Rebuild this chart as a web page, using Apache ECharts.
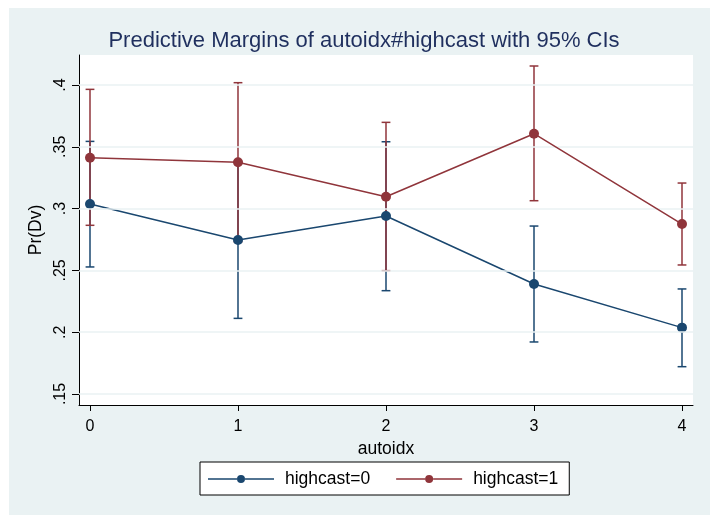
<!DOCTYPE html>
<html>
<head>
<meta charset="utf-8">
<script src="https://cdn.jsdelivr.net/npm/echarts@6/dist/echarts.min.js"></script>
<style>
html,body{margin:0;padding:0;background:#fff;}
#chart{width:710px;height:515px;}
</style>
</head>
<body>
<div id="chart"></div>
<script>
// ---- data ----
const autoidx = [0, 1, 2, 3, 4];
const hc0Mean = [0.3037, 0.2746, 0.2940, 0.2390, 0.2037];
const hc0Lo   = [0.2528, 0.2112, 0.2336, 0.1921, 0.1721];
const hc0Hi   = [0.3544, 0.3380, 0.3541, 0.2859, 0.2350];
const hc1Mean = [0.3412, 0.3375, 0.3096, 0.3606, 0.2875];
const hc1Lo   = [0.2865, 0.2731, 0.2498, 0.3064, 0.2544];
const hc1Hi   = [0.3965, 0.4019, 0.3698, 0.4154, 0.3207];
const yTickValues = [0.15, 0.2, 0.25, 0.3, 0.35, 0.4];
const yTickLabels = ['.15', '.2', '.25', '.3', '.35', '.4'];
const xTickValues = [0, 1, 2, 3, 4];
const xTickLabels = ['0', '1', '2', '3', '4'];
const seriesNames = ['highcast=0', 'highcast=1'];

const BLUE = '#1a476f';
const RED = '#90353b';
const FONT = '"Liberation Sans", Arial, sans-serif';

function ciRenderer(color) {
  return function (params, api) {
    const x = api.value(0), lo = api.value(1), hi = api.value(2);
    const pLo = api.coord([x, lo]);
    const pHi = api.coord([x, hi]);
    const w = 4.4;
    const style = { stroke: color, lineWidth: 1.5 };
    return {
      type: 'group',
      children: [
        { type: 'line', shape: { x1: pHi[0], y1: pHi[1], x2: pLo[0], y2: pLo[1] }, style: style },
        { type: 'line', shape: { x1: pHi[0] - w, y1: pHi[1], x2: pHi[0] + w, y2: pHi[1] }, style: style },
        { type: 'line', shape: { x1: pLo[0] - w, y1: pLo[1], x2: pLo[0] + w, y2: pLo[1] }, style: style }
      ]
    };
  };
}

const legendIcon = 'path://M0,5.25 L29,5.25 L29,6.75 L0,6.75 Z M37,5.25 L66,5.25 L66,6.75 L37,6.75 Z M29,6 A4,4 0 1,1 37,6 A4,4 0 1,1 29,6 Z';

const chart = echarts.init(document.getElementById('chart'), null, { renderer: 'canvas' });
chart.setOption({
  backgroundColor: '#ffffff',
  animation: false,
  textStyle: { fontFamily: FONT },
  graphic: [{
    type: 'rect', z: -100, silent: true,
    shape: { x: 9, y: 8, width: 701, height: 507 },
    style: { fill: '#eaf2f3' }
  }],
  title: {
    text: 'Predictive Margins of autoidx#highcast with 95% CIs',
    left: 364, top: 29.5, padding: 0, textAlign: 'center',
    textStyle: { fontFamily: FONT, fontSize: 22, fontWeight: 'normal', color: '#1f2f5e' }
  },
  grid: {
    left: 79, right: 17, top: 55, bottom: 110,
    show: true, backgroundColor: '#ffffff', borderWidth: 0
  },
  legend: {
    data: seriesNames.map(function (n) { return { name: n, icon: legendIcon }; }),
    left: 200, top: 462,
    orient: 'horizontal',
    backgroundColor: '#ffffff', borderColor: '#000000', borderWidth: 1, borderRadius: 0,
    padding: [8, 11, 7, 8],
    itemWidth: 66, itemHeight: 12, itemGap: 26,
    selectedMode: false,
    textStyle: { fontFamily: FONT, fontSize: 17.5, color: '#000000', padding: [0, 0, 0, 6] }
  },
  xAxis: {
    type: 'value', min: -0.0743, max: 4.0743,
    axisLine: { show: true, onZero: false, lineStyle: { color: '#000000', width: 1 } },
    axisTick: { show: true, length: 6, customValues: xTickValues, lineStyle: { color: '#000000', width: 1 } },
    axisLabel: {
      customValues: xTickValues, fontFamily: FONT, fontSize: 16, color: '#000000', margin: 14,
      formatter: function (v) { const i = xTickValues.indexOf(Math.round(v)); return i >= 0 ? xTickLabels[i] : ''; }
    },
    splitLine: { show: false },
    name: 'autoidx', nameLocation: 'middle', nameGap: 28,
    nameTextStyle: { fontFamily: FONT, fontSize: 17.5, color: '#000000' }
  },
  yAxis: {
    type: 'value', min: 0.1411, max: 0.4243,
    axisLine: { show: true, onZero: false, lineStyle: { color: '#000000', width: 1 } },
    axisTick: { show: true, length: 7, customValues: yTickValues, lineStyle: { color: '#000000', width: 1 } },
    axisLabel: {
      customValues: yTickValues, rotate: 90, fontFamily: FONT, fontSize: 16, color: '#000000', margin: 10,
      formatter: function (v) {
        for (let i = 0; i < yTickValues.length; i++) { if (Math.abs(yTickValues[i] - v) < 1e-6) return yTickLabels[i]; }
        return '';
      }
    },
    splitLine: { show: false },
    name: 'Pr(Dv)', nameLocation: 'middle', nameGap: 29,
    nameTextStyle: { fontFamily: FONT, fontSize: 17.5, color: '#000000' }
  },
  series: [
    {
      name: 'grid', type: 'line', data: [], z: 1, silent: true,
      markLine: {
        silent: true, symbol: ['none', 'none'], animation: false,
        label: { show: false },
        lineStyle: { color: '#eaf2f3', width: 1.5, type: 'solid' },
        data: yTickValues.map(function (v) { return { yAxis: v }; })
      }
    },
    {
      name: 'ci0', type: 'custom', z: 2, renderItem: ciRenderer(BLUE),
      encode: { x: 0, y: [1, 2] },
      data: autoidx.map(function (x, i) { return [x, hc0Lo[i], hc0Hi[i]]; })
    },
    {
      name: 'ci1', type: 'custom', z: 3, renderItem: ciRenderer(RED),
      encode: { x: 0, y: [1, 2] },
      data: autoidx.map(function (x, i) { return [x, hc1Lo[i], hc1Hi[i]]; })
    },
    {
      name: seriesNames[0], type: 'line', z: 4,
      symbol: 'circle', symbolSize: 10, showAllSymbol: true,
      itemStyle: { color: BLUE, borderWidth: 0 },
      lineStyle: { color: BLUE, width: 1.5 },
      data: autoidx.map(function (x, i) { return [x, hc0Mean[i]]; })
    },
    {
      name: seriesNames[1], type: 'line', z: 5,
      symbol: 'circle', symbolSize: 10, showAllSymbol: true,
      itemStyle: { color: RED, borderWidth: 0 },
      lineStyle: { color: RED, width: 1.5 },
      data: autoidx.map(function (x, i) { return [x, hc1Mean[i]]; })
    }
  ]
});
</script>
</body>
</html>
